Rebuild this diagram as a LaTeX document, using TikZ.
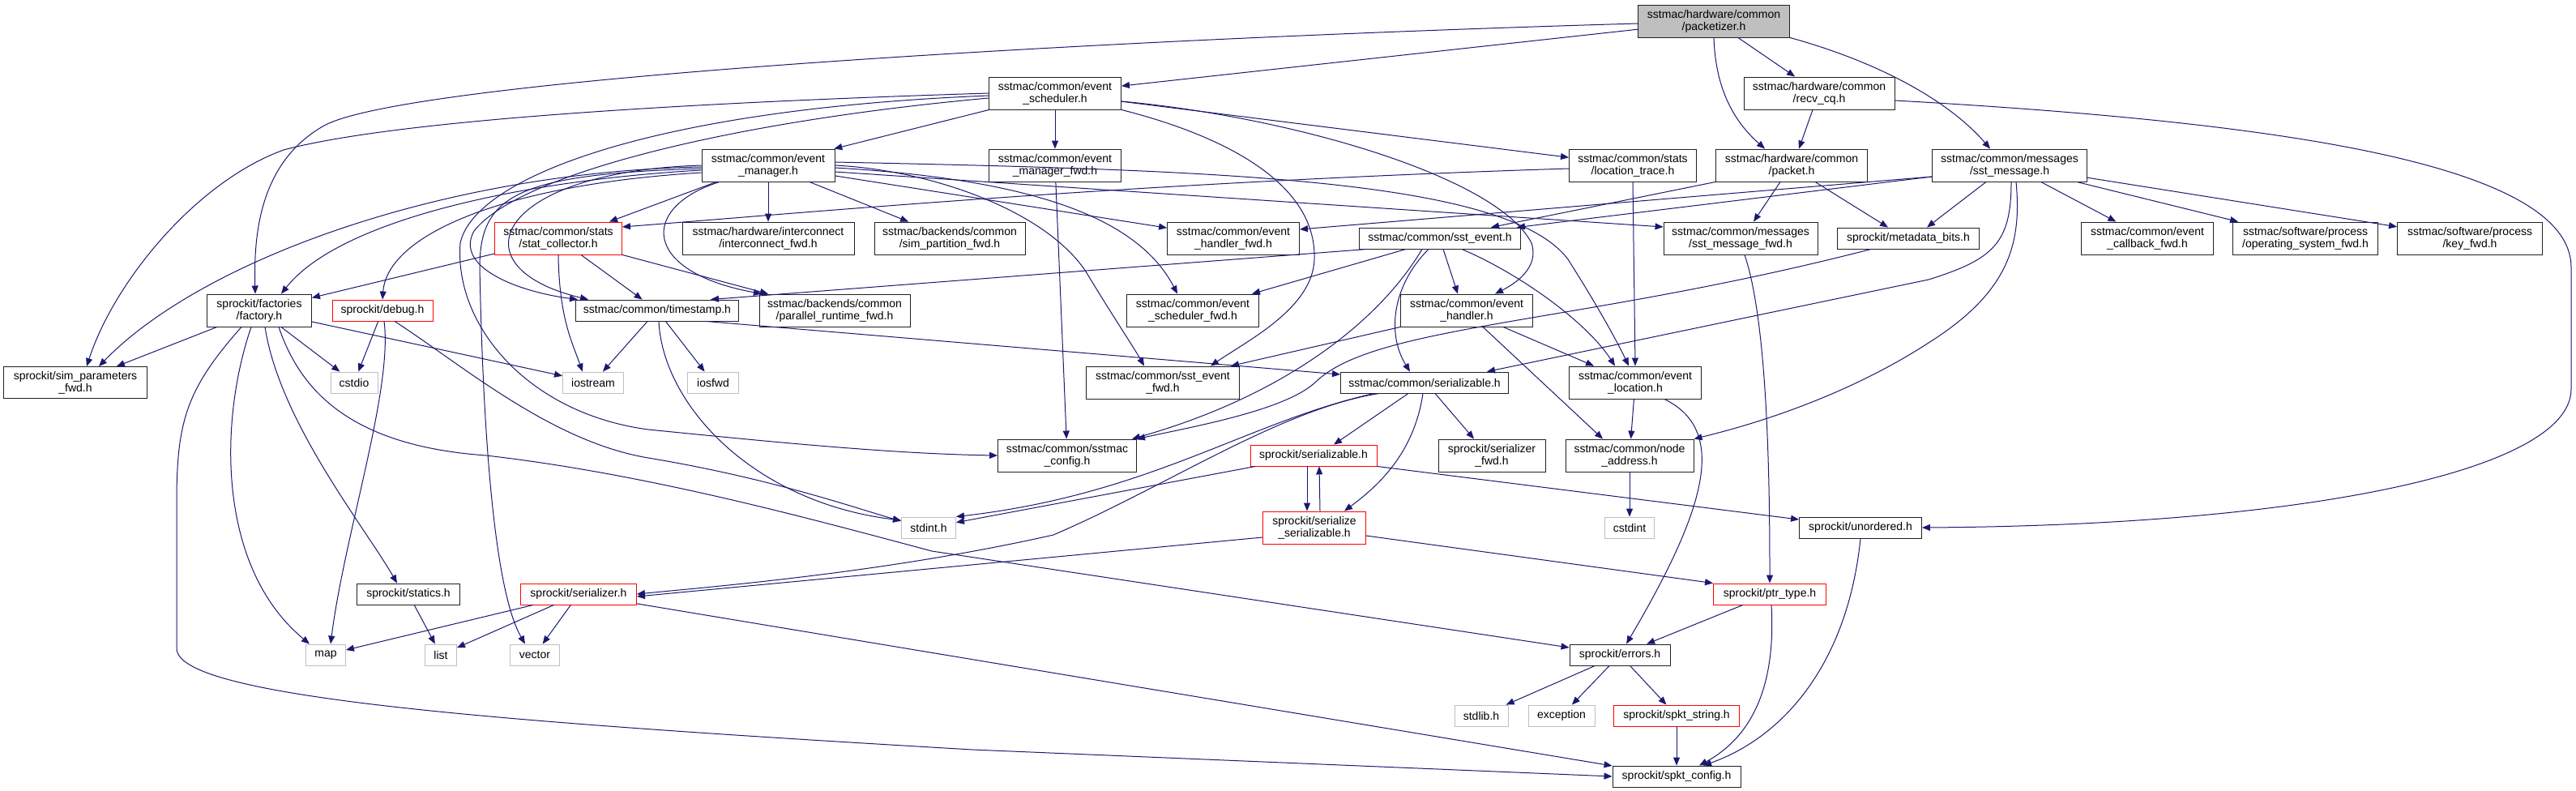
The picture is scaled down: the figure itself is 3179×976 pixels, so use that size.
\documentclass[tikz,border=0pt]{standalone}
\usepackage{fontspec}
\setmainfont{Liberation Sans}
\usetikzlibrary{arrows.meta}
\definecolor{edgec}{HTML}{191970}
\definecolor{extc}{HTML}{BFBFBF}
\definecolor{truncc}{HTML}{FF0000}
\definecolor{borderc}{HTML}{202020}
\begin{document}
\begin{tikzpicture}[x=1pt,y=-1pt,
  box/.style={draw=borderc, fill=white, line width=0.9pt, inner sep=0pt, align=center, font=\fontsize{14}{15}\selectfont},
  ext/.style={box, draw=extc},
  trunc/.style={box, draw=truncc},
  root/.style={box, fill=extc},
  edge/.style={draw=edgec, line width=1pt, -{Triangle[length=10pt,width=8pt]}}]
\fill[white] (0,0) rectangle (3179,976);
\useasboundingbox (0,0) rectangle (3179,976);

% nodes
\node[root,minimum width=187pt,minimum height=40pt] (packetizer) at (2115,26) {sstmac/hardware/common\\/packetizer.h};
\node[box,minimum width=163pt,minimum height=40pt] (evsched) at (1302,115) {sstmac/common/event\\\_scheduler.h};
\node[box,minimum width=186pt,minimum height=40pt] (recvcq) at (2245,115) {sstmac/hardware/common\\/recv\_cq.h};
\node[box,minimum width=164pt,minimum height=40pt] (evmgr) at (948,204) {sstmac/common/event\\\_manager.h};
\node[box,minimum width=163pt,minimum height=40pt] (evmgrfwd) at (1302,204) {sstmac/common/event\\\_manager\_fwd.h};
\node[box,minimum width=157pt,minimum height=40pt] (loctrace) at (2015,204) {sstmac/common/stats\\/location\_trace.h};
\node[box,minimum width=187pt,minimum height=40pt] (packet) at (2211,204) {sstmac/hardware/common\\/packet.h};
\node[box,minimum width=191pt,minimum height=40pt] (sstmsg) at (2480,204) {sstmac/common/messages\\/sst\_message.h};
\node[trunc,minimum width=157pt,minimum height=40pt] (statcoll) at (689,294) {sstmac/common/stats\\/stat\_collector.h};
\node[box,minimum width=212pt,minimum height=40pt] (icfwd) at (948,294) {sstmac/hardware/interconnect\\/interconnect\_fwd.h};
\node[box,minimum width=186pt,minimum height=40pt] (simpart) at (1172,294) {sstmac/backends/common\\/sim\_partition\_fwd.h};
\node[box,minimum width=163pt,minimum height=40pt] (evhfwd) at (1522,294) {sstmac/common/event\\\_handler\_fwd.h};
\node[box,minimum width=199pt,minimum height=26pt] (sstevent) at (1777,294) {sstmac/common/sst\_event.h};
\node[box,minimum width=190pt,minimum height=40pt] (msgfwd) at (2148,294) {sstmac/common/messages\\/sst\_message\_fwd.h};
\node[box,minimum width=175pt,minimum height=26pt] (metabits) at (2355,294) {sprockit/metadata\_bits.h};
\node[box,minimum width=163pt,minimum height=40pt] (cbfwd) at (2650,294) {sstmac/common/event\\\_callback\_fwd.h};
\node[box,minimum width=179pt,minimum height=40pt] (osfwd) at (2845,294) {sstmac/software/process\\/operating\_system\_fwd.h};
\node[box,minimum width=179pt,minimum height=40pt] (keyfwd) at (3048,294) {sstmac/software/process\\/key\_fwd.h};
\node[box,minimum width=129pt,minimum height=40pt] (factory) at (320,383) {sprockit/factories\\/factory.h};
\node[trunc,minimum width=124pt,minimum height=26pt] (debug) at (472,383) {sprockit/debug.h};
\node[box,minimum width=201pt,minimum height=26pt] (timestamp) at (811,383) {sstmac/common/timestamp.h};
\node[box,minimum width=186pt,minimum height=40pt] (parfwd) at (1030,383) {sstmac/backends/common\\/parallel\_runtime\_fwd.h};
\node[box,minimum width=163pt,minimum height=40pt] (evschedfwd) at (1472,383) {sstmac/common/event\\\_scheduler\_fwd.h};
\node[box,minimum width=163pt,minimum height=40pt] (evhandler) at (1810,383) {sstmac/common/event\\\_handler.h};
\node[box,minimum width=177pt,minimum height=39pt] (simparams) at (93,472) {sprockit/sim\_parameters\\\_fwd.h};
\node[ext,minimum width=58pt,minimum height=26pt] (cstdio) at (437,472) {cstdio};
\node[ext,minimum width=75pt,minimum height=26pt] (iostream) at (732,472) {iostream};
\node[ext,minimum width=63pt,minimum height=26pt] (iosfwd) at (880,472) {iosfwd};
\node[box,minimum width=189pt,minimum height=40pt] (evfwd) at (1435,472) {sstmac/common/sst\_event\\\_fwd.h};
\node[box,minimum width=207pt,minimum height=26pt] (serial) at (1758,472) {sstmac/common/serializable.h};
\node[box,minimum width=163pt,minimum height=40pt] (evloc) at (2018,472) {sstmac/common/event\\\_location.h};
\node[box,minimum width=171pt,minimum height=40pt] (config) at (1317,562) {sstmac/common/sstmac\\\_config.h};
\node[trunc,minimum width=156pt,minimum height=26pt] (spserial) at (1621,562) {sprockit/serializable.h};
\node[box,minimum width=132pt,minimum height=40pt] (serfwd) at (1841,562) {sprockit/serializer\\\_fwd.h};
\node[box,minimum width=158pt,minimum height=40pt] (nodeaddr) at (2011,562) {sstmac/common/node\\\_address.h};
\node[ext,minimum width=67pt,minimum height=26pt] (stdint) at (1146,651) {stdint.h};
\node[trunc,minimum width=127pt,minimum height=40pt] (serser) at (1622,651) {sprockit/serialize\\\_serializable.h};
\node[ext,minimum width=61pt,minimum height=26pt] (cstdint) at (2011,651) {cstdint};
\node[box,minimum width=151pt,minimum height=26pt] (unordered) at (2296,651) {sprockit/unordered.h};
\node[box,minimum width=127pt,minimum height=26pt] (statics) at (504,733) {sprockit/statics.h};
\node[trunc,minimum width=143pt,minimum height=26pt] (serializer) at (714,733) {sprockit/serializer.h};
\node[trunc,minimum width=139pt,minimum height=26pt] (ptrtype) at (2184,733) {sprockit/ptr\_type.h};
\node[ext,minimum width=49pt,minimum height=26pt] (map) at (402,808) {map};
\node[ext,minimum width=39pt,minimum height=26pt] (list) at (544,808) {list};
\node[ext,minimum width=61pt,minimum height=26pt] (vector) at (660,808) {vector};
\node[box,minimum width=124pt,minimum height=26pt] (errors) at (1999,808) {sprockit/errors.h};
\node[ext,minimum width=66pt,minimum height=26pt] (stdlib) at (1828,883) {stdlib.h};
\node[ext,minimum width=82pt,minimum height=26pt] (exception) at (1927,883) {exception};
\node[trunc,minimum width=155pt,minimum height=26pt] (spktstring) at (2069,883) {sprockit/spkt\_string.h};
\node[box,minimum width=158pt,minimum height=26pt] (spktconfig) at (2069,958) {sprockit/spkt\_config.h};

% packetizer
\draw[edge] (packetizer) -- (evsched);
\draw[edge] (packetizer) -- (recvcq);
\draw[edge] (packetizer.south) .. controls (2117,110) and (2140,150) .. ([xshift=-33pt]packet.north);
\draw[edge] (packetizer.south east) .. controls (2330,80) and (2410,130) .. ([xshift=-24pt]sstmsg.north);
\draw[edge] ([yshift=-3pt]packetizer.west) .. controls (1300,50) and (500,100) .. (400,155) .. controls (320,200) and (313,290) .. ([xshift=-5pt]factory.north);

% event scheduler
\draw[edge] (evsched.west) .. controls (900,125) and (500,145) .. (350,185) .. controls (240,225) and (140,350) .. ([xshift=14pt]simparams.north);
\draw[edge] ([yshift=-3pt]evsched.west) .. controls (800,135) and (585,220) .. (568,300) .. controls (560,400) and (650,510) .. (800,530) .. controls (950,545) and (1100,560) .. (config.west);
\draw[edge] ([yshift=-6pt]evsched.west) .. controls (900,150) and (640,215) .. (585,285) .. controls (560,330) and (640,360) .. ([xshift=-98pt]timestamp.north);
\draw[edge] (evsched) -- (evmgr);
\draw[edge] (evsched) -- (evmgrfwd);
\draw[edge] (evsched) -- (loctrace);
\draw[edge] ([yshift=-10pt]evsched.east) .. controls (1600,145) and (1850,220) .. (1890,300) .. controls (1900,330) and (1870,350) .. ([xshift=35pt]evhandler.north);
\draw[edge] (evsched.south east) .. controls (1520,170) and (1625,230) .. (1622,320) .. controls (1620,380) and (1540,420) .. ([xshift=59pt]evfwd.north);

% event manager
\draw[edge] ([xshift=-64pt]evmgr.south) -- ([xshift=63pt]statcoll.north);
\draw[edge] (evmgr) -- (icfwd);
\draw[edge] (evmgr) -- (simpart);
\draw[edge] (evmgr) -- (evhfwd);
\draw[edge] ([yshift=-3pt]evmgr.east) .. controls (1250,220) and (1400,260) .. ([xshift=-19pt]evschedfwd.north);
\draw[edge] (evmgr.east) .. controls (1150,210) and (1290,260) .. (1340,335) .. controls (1370,385) and (1400,430) .. ([xshift=-23pt]evfwd.north);
\draw[edge] ([yshift=-8pt]evmgr.east) -- ([yshift=14pt]msgfwd.west);
\draw[edge] ([yshift=4pt]evmgr.east) .. controls (1500,210) and (1860,220) .. (1935,320) .. controls (1970,375) and (1995,420) .. ([xshift=-8pt]evloc.north);
\draw[edge] ([xshift=-60pt]evmgr.south) .. controls (790,255) and (790,335) .. ([xshift=-90pt]parfwd.north);
\draw[edge] (evmgr.west) .. controls (610,212) and (560,330) .. ([xshift=-85pt]timestamp.north);
\draw[edge] ([yshift=-6pt]evmgr.west) .. controls (650,222) and (420,270) .. ([xshift=27pt]factory.north);
\draw[edge] ([yshift=-9pt]evmgr.west) .. controls (620,228) and (478,290) .. (debug.north);
\draw[edge] ([yshift=-2pt]evmgr.west) .. controls (550,212) and (250,320) .. ([xshift=29pt]simparams.north);
\draw[edge] ([yshift=-4pt]evmgr.west) .. controls (640,215) and (592,240) .. (592,330) .. controls (595,480) and (605,720) .. ([xshift=-12pt]vector.north);
\draw[edge] (evmgrfwd) -- (config);

% stat collector
\draw[edge] (statcoll) -- (factory);
\draw[edge] (statcoll) -- (timestamp);
\draw[edge] (statcoll.south) .. controls (690,390) and (705,420) .. ([xshift=-13pt]iostream.north);
\draw[edge] (statcoll.south east) -- ([xshift=-82pt]parfwd.north);

% factory
\draw[edge] (factory) -- (simparams);
\draw[edge] (factory) -- (cstdio);
\draw[edge] (factory) -- (iostream);
\draw[edge] ([xshift=-10pt]factory.south) .. controls (270,520) and (268,700) .. ([xshift=-20pt]map.north);
\draw[edge] ([xshift=7pt]factory.south) .. controls (345,520) and (450,650) .. ([xshift=-14pt]statics.north);
\draw[edge] ([xshift=-22pt]factory.south) .. controls (230,480) and (218,520) .. (218,620) -- (218,800) .. controls (218,860) and (600,890) .. (1200,925) -- (spktconfig.west);
\draw[edge] ([xshift=24pt]factory.south) .. controls (370,480) and (430,550) .. (600,562) .. controls (800,585) and (1000,640) .. (1150,680) -- ([yshift=9pt]errors.west);

% debug
\draw[edge] (debug) -- (cstdio);
\draw[edge] ([xshift=2pt]debug.south) .. controls (485,480) and (425,660) .. ([xshift=6pt]map.north);
\draw[edge] ([xshift=15pt]debug.south) .. controls (570,450) and (680,545) .. (800,565) .. controls (950,590) and (1050,625) .. ([yshift=8pt]stdint.west);

% timestamp
\draw[edge] (timestamp) -- (iostream);
\draw[edge] (timestamp) -- (iosfwd);
\draw[edge] ([xshift=2pt]timestamp.south) .. controls (818,500) and (930,620) .. ([yshift=9pt]stdint.west);
\draw[edge] ([xshift=60pt]timestamp.south) -- ([yshift=10pt]serial.west);

% sst_event
\draw[edge] ([xshift=-90pt]sstevent.south) -- ([xshift=66pt]timestamp.north);
\draw[edge] ([xshift=-42pt]sstevent.south) -- ([xshift=73pt]evschedfwd.north);
\draw[edge] ([xshift=4pt]sstevent.south) -- ([xshift=-11pt]evhandler.north);
\draw[edge] ([xshift=-14pt]sstevent.south) .. controls (1720,350) and (1710,410) .. ([xshift=-18pt]serial.north);
\draw[edge] ([xshift=27pt]sstevent.south) .. controls (1880,340) and (1960,400) .. ([xshift=-25pt]evloc.north);
\draw[edge] ([xshift=-22pt]sstevent.south) .. controls (1700,400) and (1580,490) .. ([xshift=80pt]config.north);

% event handler
\draw[edge] (evhandler.south west) -- ([xshift=84pt]evfwd.north);
\draw[edge] ([xshift=45pt]evhandler.south) -- ([xshift=-51pt]evloc.north);
\draw[edge] ([xshift=20pt]evhandler.south) -- ([xshift=-33pt]nodeaddr.north);

% location trace
\draw[edge] ([yshift=-4pt]loctrace.west) .. controls (1400,225) and (1000,262) .. ([yshift=14pt]statcoll.east);
\draw[edge] (loctrace.south) -- (evloc.north);

% packet
\draw[edge] (packet.south west) -- ([xshift=63pt]sstevent.north);
\draw[edge] ([xshift=-14pt]packet.south) -- ([xshift=16pt]msgfwd.north);
\draw[edge] ([xshift=29pt]packet.south) -- ([xshift=-25pt]metabits.north);

% recv_cq
\draw[edge] ([xshift=-8pt]recvcq.south) -- ([xshift=9pt]packet.north);
\draw[edge] ([yshift=-9pt]recvcq.east) .. controls (2800,150) and (3173,200) .. (3173,330) -- (3173,480) .. controls (3173,580) and (2850,648) .. (unordered.east);

% sst_message
\draw[edge] ([xshift=-29pt]sstmsg.south) -- ([xshift=23pt]metabits.north);
\draw[edge] (sstmsg) -- (cbfwd);
\draw[edge] (sstmsg) -- (osfwd);
\draw[edge] (sstmsg) -- (keyfwd);
\draw[edge] ([yshift=-14pt]sstmsg.west) -- ([xshift=-5pt]sstevent.north east);
\draw[edge] ([yshift=-14pt]sstmsg.west) -- ([yshift=11pt]evhfwd.east);
\draw[edge] ([xshift=2pt]sstmsg.south) .. controls (2482,300) and (2460,320) .. (2380,345) -- ([xshift=77pt]serial.north);
\draw[edge] ([xshift=8pt]sstmsg.south) .. controls (2495,300) and (2480,360) .. (2380,423) .. controls (2300,475) and (2200,515) .. (nodeaddr.north east);

% metadata bits
\draw[edge] ([xshift=-46pt]metabits.south) .. controls (1950,400) and (1700,400) .. (1625,470) .. controls (1590,505) and (1480,525) .. (config.north east);

% sstmac serializable
\draw[edge] ([xshift=-20pt]serial.south) -- ([xshift=25pt]spserial.north);
\draw[edge] ([xshift=13pt]serial.south) -- ([xshift=-22pt]serfwd.north);
\draw[edge] ([xshift=-2pt]serial.south) .. controls (1745,560) and (1700,600) .. ([xshift=37pt]serser.north);
\draw[edge] ([xshift=-56pt]serial.south) .. controls (1580,505) and (1440,600) .. (1300,660) .. controls (1100,705) and (900,722) .. (serializer.east);
\draw[edge] ([xshift=-62pt]serial.south) .. controls (1540,520) and (1420,610) .. (stdint.north east);

% sprockit serializable
\draw[edge] (spserial) -- (stdint);
\draw[edge] ([xshift=-8pt]spserial.south) -- ([xshift=-9pt]serser.north);
\draw[edge] ([xshift=7pt]serser.north) -- ([xshift=7pt]spserial.south);
\draw[edge] (spserial.south east) -- ([yshift=10pt]unordered.west);
\draw[edge] ([yshift=-10pt]serser.east) -- (ptrtype.north west);
\draw[edge] ([yshift=-12pt]serser.west) -- ([yshift=-3pt]serializer.east);

% lower part
\draw[edge] (nodeaddr) -- (cstdint);
\draw[edge] (evloc) -- (nodeaddr);
\draw[edge] ([xshift=36pt]evloc.south) .. controls (2130,530) and (2110,620) .. ([xshift=8pt]errors.north);
\draw[edge] ([xshift=5pt]msgfwd.south) .. controls (2182,400) and (2184,600) .. (ptrtype.north);
\draw[edge] (unordered.south) .. controls (2280,820) and (2200,910) .. ([xshift=33pt]spktconfig.north);
\draw[edge] (ptrtype) -- (errors);
\draw[edge] ([xshift=2pt]ptrtype.south) .. controls (2192,850) and (2160,910) .. ([xshift=28pt]spktconfig.north);
\draw[edge] (errors) -- (stdlib);
\draw[edge] (errors) -- (exception);
\draw[edge] (errors) -- (spktstring);
\draw[edge] (spktstring) -- (spktconfig);
\draw[edge] (serializer) -- (map);
\draw[edge] (serializer) -- (list);
\draw[edge] (serializer) -- (vector);
\draw[edge] (serializer) -- (spktconfig);
\draw[edge] (statics) -- (list);
\end{tikzpicture}
\end{document}
